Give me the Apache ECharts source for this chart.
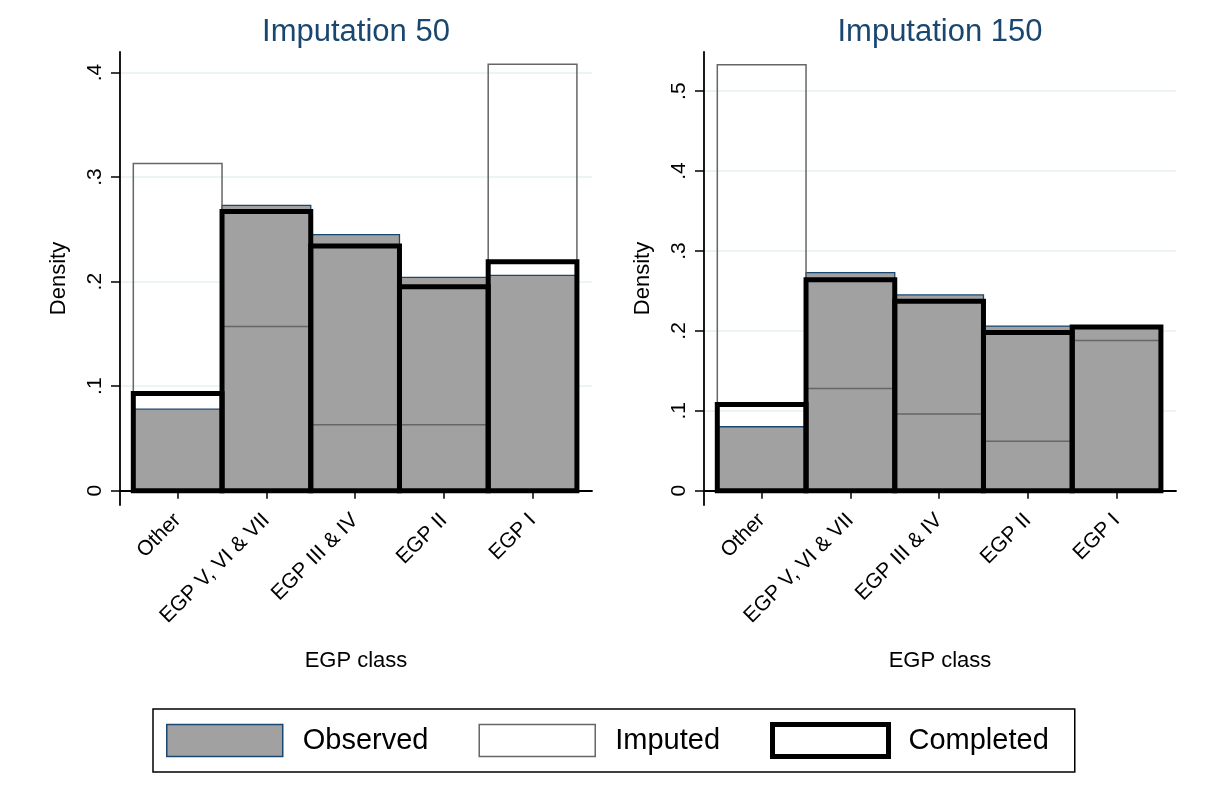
<!DOCTYPE html>
<html>
<head>
<meta charset="utf-8">
<script src="https://cdn.jsdelivr.net/npm/echarts@6/dist/echarts.min.js"></script>
<style>
html,body{margin:0;padding:0;background:#fff;}
#chart{width:1216px;height:791px;}
</style>
</head>
<body>
<div id="chart"></div>
<script>
const categories = ['Other', 'EGP V, VI & VII', 'EGP III & IV', 'EGP II', 'EGP I'];
const categoryPositions = [1, 2, 3, 4, 5];

const observed50  = [0.078, 0.273, 0.245, 0.204, 0.206];
const imputed50   = [0.313, 0.157, 0.063, 0.063, 0.408];
const completed50 = [0.093, 0.267, 0.234, 0.195, 0.219];

const observed150  = [0.080, 0.273, 0.245, 0.206, 0.206];
const imputed150   = [0.533, 0.128, 0.096, 0.062, 0.188];
const completed150 = [0.108, 0.264, 0.237, 0.198, 0.205];

const yTicks50  = [0, 0.1, 0.2, 0.3, 0.4];
const yTicks150 = [0, 0.1, 0.2, 0.3, 0.4, 0.5];

const panelTitles = ['Imputation 50', 'Imputation 150'];
const seriesNames = ['Observed', 'Imputed', 'Completed'];

const FONT = '"Liberation Sans", Arial, Helvetica, sans-serif';
const NAVY = '#1a476f';

const styles = {
  Observed:  { fill: '#a1a1a1', stroke: NAVY, lineWidth: 1.3 },
  Imputed:   { fill: 'none', stroke: '#666666', lineWidth: 1.5 },
  Completed: { fill: 'none', stroke: '#000000', lineWidth: 5 }
};

function toData(vals) {
  return vals.map((v, i) => [categoryPositions[i], v]);
}

function rectRenderer(name) {
  return function (params, api) {
    const x = api.value(0), v = api.value(1);
    const p1 = api.coord([x - 0.5, v]);
    const p0 = api.coord([x + 0.5, 0]);
    return {
      type: 'rect',
      shape: { x: p1[0], y: p1[1], width: p0[0] - p1[0], height: p0[1] - p1[1] },
      style: Object.assign({}, styles[name])
    };
  };
}

function yFmt(v) {
  if (Math.abs(v) < 1e-9) return '0';
  return String(Math.round(v * 10) / 10).replace(/^0/, '');
}

const grids = [
  { left: 120, top: 52, width: 472, height: 453 },
  { left: 704, top: 52, width: 472, height: 453 }
];

const yRanges = [
  { min: -0.0137, max: 0.4197, ticks: yTicks50 },
  { min: -0.0179, max: 0.549, ticks: yTicks150 }
];

const xAxes = grids.map((g, i) => ({
  type: 'value',
  gridIndex: i,
  min: 0.35,
  max: 5.67,
  name: 'EGP class',
  nameLocation: 'middle',
  nameGap: 145,
  nameTextStyle: { fontFamily: FONT, fontSize: 22, color: '#000' },
  axisLine: { show: true, lineStyle: { color: '#000', width: 1.8 } },
  axisTick: { show: true, length: 8, lineStyle: { color: '#000', width: 1.5 }, customValues: categoryPositions },
  axisLabel: {
    show: true,
    customValues: categoryPositions,
    rotate: 45,
    margin: 12,
    fontFamily: FONT,
    fontSize: 21,
    color: '#000',
    formatter: function (v) { return categories[Math.round(v) - 1] || ''; }
  },
  splitLine: { show: false }
}));

const yAxes = grids.map((g, i) => ({
  type: 'value',
  gridIndex: i,
  min: yRanges[i].min,
  max: yRanges[i].max,
  name: 'Density',
  nameLocation: 'middle',
  nameGap: 50,
  nameTextStyle: { fontFamily: FONT, fontSize: 22, color: '#000' },
  axisLine: { show: true, lineStyle: { color: '#000', width: 1.8 } },
  axisTick: { show: true, length: 9, lineStyle: { color: '#000', width: 1.5 }, customValues: yRanges[i].ticks },
  axisLabel: {
    show: true,
    customValues: yRanges[i].ticks,
    rotate: 90,
    margin: 14,
    fontFamily: FONT,
    fontSize: 21,
    color: '#000',
    formatter: yFmt
  },
  splitLine: { show: true, lineStyle: { color: '#e6f0f2', width: 1.5 } }
}));

const dataSets = [
  { Observed: observed50, Imputed: imputed50, Completed: completed50 },
  { Observed: observed150, Imputed: imputed150, Completed: completed150 }
];

const series = [];
dataSets.forEach((ds, gi) => {
  seriesNames.forEach((name, si) => {
    series.push({
      type: 'custom',
      name: name,
      xAxisIndex: gi,
      yAxisIndex: gi,
      z: 2 + si,
      renderItem: rectRenderer(name),
      encode: { x: 0, y: 1 },
      itemStyle: { color: styles[name].fill === 'none' ? '#fff' : styles[name].fill, borderColor: styles[name].stroke },
      data: toData(ds[name]),
      silent: true
    });
  });
});

const chart = echarts.init(document.getElementById('chart'), null, { renderer: 'canvas' });
chart.setOption({
  animation: false,
  backgroundColor: '#ffffff',
  title: panelTitles.map((t, i) => ({
    text: t,
    left: grids[i].left + grids[i].width / 2 - 5,
    textAlign: 'center',
    top: 12,
    textStyle: { fontFamily: FONT, fontSize: 31, fontWeight: 'normal', color: NAVY }
  })),
  legend: {
    left: 153,
    top: 709,
    orient: 'horizontal',
    padding: [13, 26, 13, 13],
    borderColor: '#000',
    borderWidth: 1.5,
    itemWidth: 116,
    itemHeight: 32,
    itemGap: 50,
    selectedMode: false,
    textStyle: { fontFamily: FONT, fontSize: 29, lineHeight: 32, color: '#000', padding: [0, 0, 0, 15] },
    data: [
      { name: 'Observed', icon: 'rect', itemStyle: { color: '#a1a1a1', borderColor: NAVY, borderWidth: 1.5 } },
      { name: 'Imputed', icon: 'rect', itemStyle: { color: '#ffffff', borderColor: '#666666', borderWidth: 1.5 } },
      { name: 'Completed', icon: 'rect', itemStyle: { color: '#ffffff', borderColor: '#000000', borderWidth: 5 } }
    ]
  },
  grid: grids,
  xAxis: xAxes,
  yAxis: yAxes,
  series: series
});
</script>
</body>
</html>
